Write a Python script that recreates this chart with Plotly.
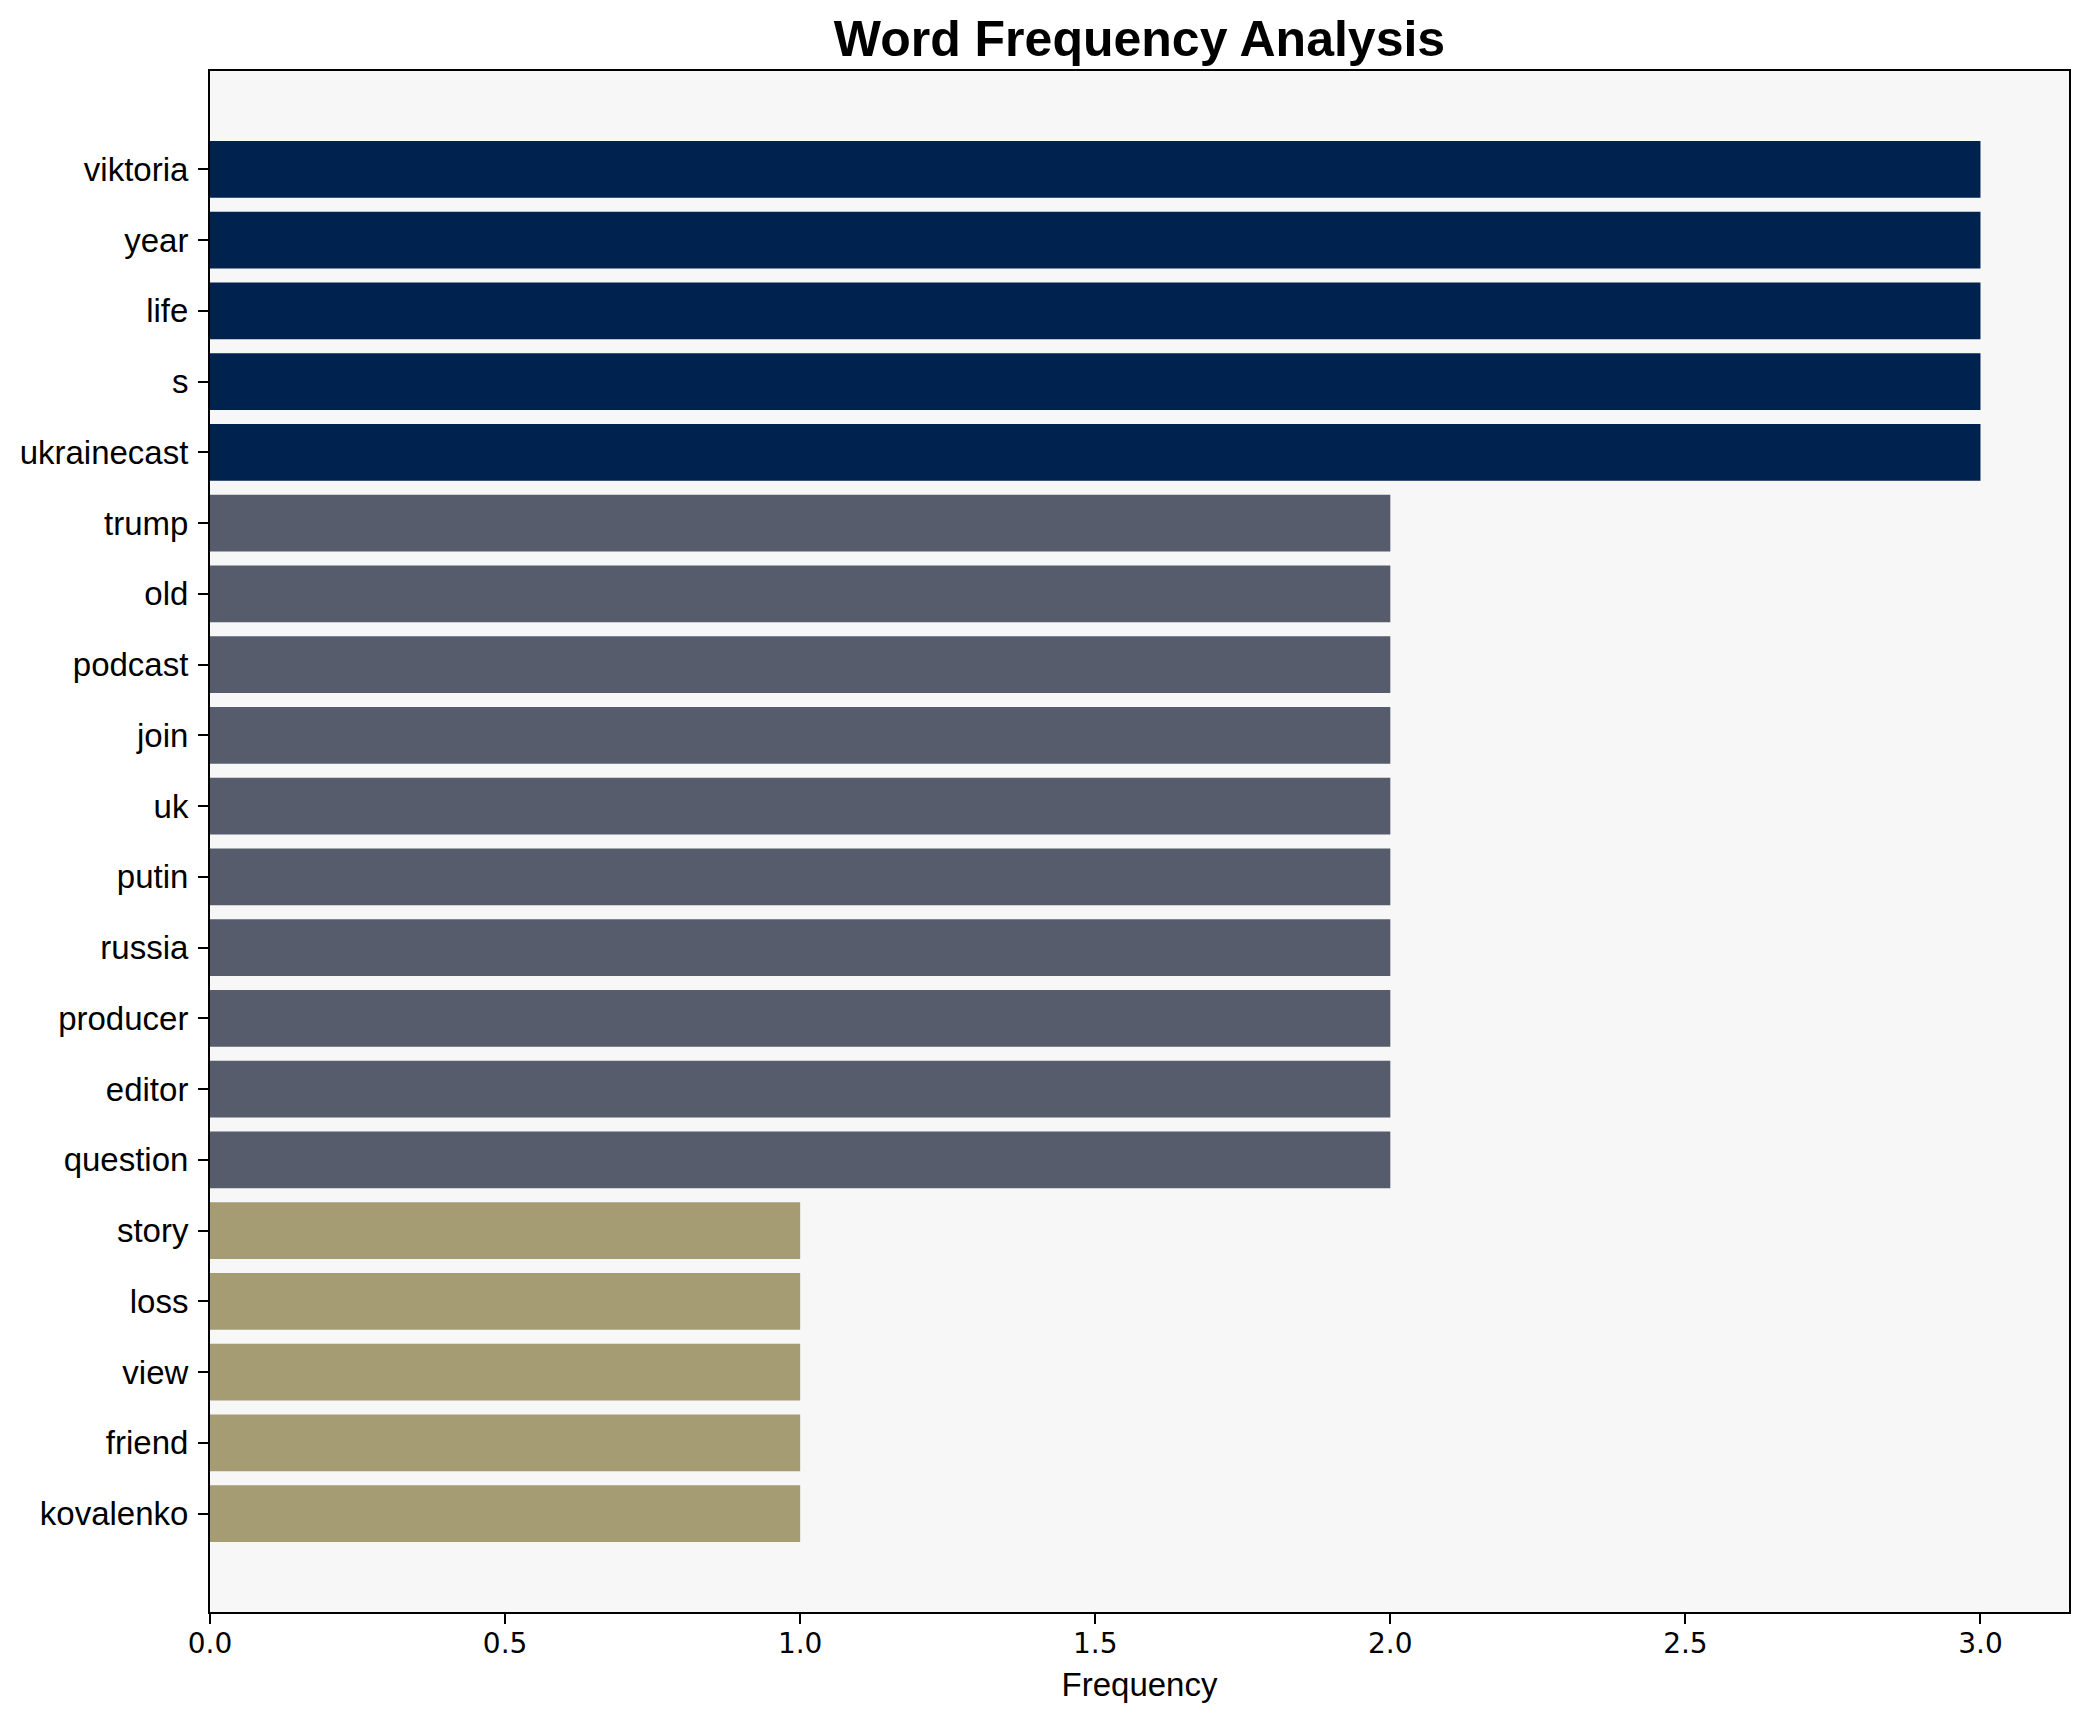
import plotly.graph_objects as go

words = ["viktoria", "year", "life", "s", "ukrainecast", "trump", "old", "podcast",
         "join", "uk", "putin", "russia", "producer", "editor", "question",
         "story", "loss", "view", "friend", "kovalenko"]
freqs = [3, 3, 3, 3, 3, 2, 2, 2, 2, 2, 2, 2, 2, 2, 2, 1, 1, 1, 1, 1]
x_ticks = [0.0, 0.5, 1.0, 1.5, 2.0, 2.5, 3.0]
x_tick_labels = ["0.0", "0.5", "1.0", "1.5", "2.0", "2.5", "3.0"]

color_by_freq = {3: "#00224e", 2: "#575c6d", 1: "#a59c74"}
bar_colors = [color_by_freq[f] for f in freqs]

W, H = 2089, 1722
sans = "Liberation Sans, Arial, Helvetica, sans-serif"

fig = go.Figure(go.Bar(
    x=freqs, y=words, orientation="h", width=0.8,
    marker=dict(color=bar_colors, line=dict(width=0)),
))

n = len(words)
fig.update_layout(
    width=W, height=H, autosize=False,
    margin=dict(l=202, r=28, t=63, b=118, pad=0),
    paper_bgcolor="white", plot_bgcolor="#f7f7f7",
    showlegend=False,
    title=dict(text="<b>Word Frequency Analysis</b>", x=0.5, xref="paper",
               y=1 - 30 / H, yref="container", yanchor="middle", xanchor="center",
               font=dict(family=sans, size=50, color="black")),
    xaxis=dict(range=[0, 3.15], tickvals=x_ticks, ticktext=x_tick_labels,
               ticks="outside", ticklen=10, tickwidth=2, tickcolor="black",
               showline=True, linecolor="black", linewidth=2, mirror=True,
               showgrid=False, zeroline=False, ticklabelstandoff=-5,
               tickfont=dict(family="DejaVu Sans", size=28, color="black"),
               title=dict(text="Frequency", standoff=14,
                          font=dict(family=sans, size=33, color="black"))),
    yaxis=dict(range=[n - 1 + 1.39, -1.39], type="category",
               ticks="outside", ticklen=10, tickwidth=2, tickcolor="black",
               showline=True, linecolor="black", linewidth=2, mirror=True,
               showgrid=False, zeroline=False, ticklabelstandoff=3,
               tickfont=dict(family=sans, size=33, color="black")),
)

fig.write_html("out.html")
